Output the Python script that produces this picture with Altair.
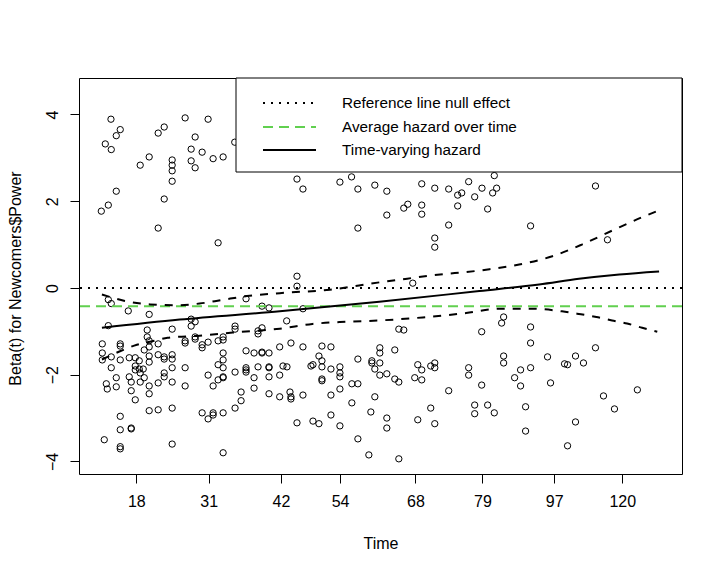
import altair as alt
import pandas as pd

# ---- scaled Schoenfeld residuals: transformed time (0-100 across the panel) and beta(t) ----
ul_time = [5.30, 6.84, 6.18, 4.36, 5.35, 13.13, 14.13, 17.60, 21.41, 19.26, 18.60, 20.42, 22.24, 23.90,
           11.64, 10.15, 15.45, 15.45, 15.45, 15.45, 18.60, 19.26, 6.18, 4.86, 3.70, 14.13, 13.13, 23.07, 25.83]
ul_beta = [3.89, 3.65, 3.51, 3.32, 3.19, 3.57, 3.71, 3.92, 3.89, 3.48, 3.20, 3.13, 2.98, 3.02,
           3.02, 2.83, 2.95, 2.83, 2.70, 2.46, 2.93, 2.77, 2.23, 1.91, 1.77, 2.05, 1.38, 1.04, 3.36]

um_time = [36.15, 37.14, 43.27, 45.20, 46.25, 49.06, 51.05, 46.25, 51.05, 53.86, 54.53, 56.84, 56.84, 56.84,
           59.00, 61.31, 62.80, 63.47, 64.62, 65.62, 62.80, 61.31, 59.00, 59.00, 36.15]
um_beta = [2.51, 2.28, 2.44, 2.56, 2.28, 2.37, 2.23, 1.38, 1.68, 1.84, 1.93, 2.40, 1.91, 1.70,
           2.30, 2.28, 2.14, 2.19, 2.45, 2.10, 1.89, 1.45, 1.15, 0.94, 0.27]

ur_time = [68.87, 66.83, 69.26, 68.60, 67.77, 85.65, 74.89, 87.64]
ur_beta = [2.59, 2.30, 2.30, 2.19, 1.82, 2.35, 1.43, 1.11]

lr_time = [70.42, 70.09, 66.78, 74.89, 74.89, 85.65, 70.42, 70.42, 77.70, 82.34, 80.52, 81.02, 83.66, 73.23,
           74.89, 72.24, 73.23, 78.20, 66.78, 92.60, 86.98, 67.77, 68.87, 74.06, 88.80, 82.34, 74.06, 81.02]
lr_beta = [-0.67, -0.81, -1.01, -0.90, -1.27, -1.38, -1.57, -1.73, -1.59, -1.57, -1.75, -1.77, -1.73, -1.89,
           -1.84, -2.07, -2.26, -2.19, -2.24, -2.35, -2.49, -2.70, -2.88, -2.74, -2.79, -3.09, -3.30, -3.64]

lm_time = [36.15, 55.35, 37.14, 34.44, 53.04, 53.86, 35.15, 37.14, 40.29, 41.78,
           39.79, 40.29, 49.89, 49.89, 52.37, 46.25, 48.57, 48.57, 49.89, 33.83,
           34.49, 38.47, 38.80, 40.29, 41.78, 43.27, 43.27, 43.27, 49.06, 49.89,
           51.05, 52.37, 53.04, 56.18, 56.84, 58.33, 59.00, 59.00, 55.68, 56.84,
           64.62, 64.62, 40.29, 40.29, 45.25, 46.25, 43.27, 34.99, 35.15, 35.15,
           37.14, 41.78, 49.06, 61.31, 45.25, 48.40, 51.05, 51.05, 56.18, 58.33,
           59.00, 65.62, 65.62, 36.15, 38.80, 39.79, 41.78, 43.27, 46.25, 48.07,
           53.04]
lm_beta = [0.04, 0.11, -0.48, -0.76, -0.95, -0.97, -1.27, -1.36, -1.34, -1.36,
           -1.57, -1.68, -1.38, -1.50, -1.43, -1.64, -1.68, -1.73, -1.73, -1.80,
           -1.82, -1.80, -1.77, -1.82, -1.87, -1.82, -1.96, -2.05, -1.87, -2.01,
           -1.98, -2.10, -2.17, -1.77, -1.89, -1.80, -1.73, -1.84, -2.07, -2.12,
           -1.84, -2.01, -2.10, -2.14, -2.21, -2.21, -2.33, -2.40, -2.51, -2.56,
           -2.47, -2.47, -2.51, -2.37, -2.65, -2.86, -3.00, -3.23, -3.04, -2.77,
           -3.13, -2.70, -2.90, -3.11, -3.07, -3.13, -2.93, -3.18, -3.48, -3.85,
           -3.94]

ll1_time = [4.86, 5.35, 27.70, 30.35, 31.51, 8.17, 11.64, 4.86, 18.60, 19.26,
            18.60, 25.88, 25.88, 30.35, 29.69, 29.69, 11.31, 15.45, 11.31, 11.64,
            13.13, 17.60, 17.60, 19.26, 19.26, 20.42, 20.42, 21.41, 23.07, 23.90,
            23.90, 3.86, 6.84, 6.84, 3.86, 5.35, 6.84, 3.86, 8.33, 9.33,
            9.99, 9.33, 9.33, 9.99, 10.82, 11.64, 11.64, 11.64, 13.13, 14.13,
            14.13, 15.45, 15.45, 5.35, 10.65, 10.15, 14.13, 15.45, 17.60, 15.45]
ll1_beta = [-0.27, -0.36, -0.25, -0.42, -0.46, -0.53, -0.61, -0.87, -0.72, -0.78,
            -0.88, -0.88, -0.95, -0.92, -0.99, -1.06, -0.97, -0.95, -1.13, -1.22,
            -1.29, -1.22, -1.27, -1.13, -1.18, -1.31, -1.38, -1.25, -1.22, -1.13,
            -1.20, -1.29, -1.29, -1.34, -1.50, -1.59, -1.66, -1.66, -1.61, -1.61,
            -1.68, -1.80, -1.89, -1.87, -1.43, -1.36, -1.57, -1.71, -1.54, -1.59,
            -1.64, -1.54, -1.64, -1.84, -1.87, -1.96, -1.96, -1.84, -1.84, -2.17]

ll2_time = [17.60, 14.13, 6.18, 8.33, 10.82, 4.53, 4.69, 6.18, 8.66, 10.15,
            11.64, 13.13, 8.66, 9.33, 11.64, 11.64, 13.13, 15.45, 6.84, 6.84,
            8.66, 8.66, 4.19, 6.84, 6.84, 15.45, 20.42, 21.41, 22.24, 22.24,
            23.90, 23.90, 21.41, 22.24, 23.07, 23.90, 23.90, 23.07, 23.90, 23.90,
            23.90, 25.88, 27.70, 27.70, 27.70, 27.70, 29.03, 29.03, 29.03, 30.35,
            30.35, 31.51, 29.69, 31.51, 31.51, 31.51, 31.51, 33.28, 33.28, 33.28,
            25.88, 26.88, 26.88]
ll2_beta = [-2.26, -2.05, -2.07, -2.05, -2.07, -2.21, -2.33, -2.28, -2.17, -2.17,
            -2.26, -2.19, -2.37, -2.58, -2.44, -2.83, -2.81, -2.77, -2.96, -3.27,
            -3.23, -3.25, -3.50, -3.66, -3.71, -3.60, -2.88, -3.02, -2.88, -2.93,
            -2.88, -3.80, -2.01, -2.26, -2.12, -2.05, -2.07, -1.77, -1.66, -1.84,
            -1.50, -1.94, -1.45, -1.84, -1.89, -1.94, -1.50, -2.07, -2.31, -1.48,
            -1.50, -1.50, -1.82, -1.82, -1.84, -2.05, -2.44, -1.36, -2.01, -2.51,
            -2.77, -2.60, -2.40]

# ---- smoothed time-varying coefficient and its confidence band ----
fit_time = [3.8, 16.7, 33.3, 49.8, 66.4, 76.3, 82.9, 89.6, 96.2]
fit_beta = [-0.92, -0.73, -0.54, -0.32, -0.07, 0.08, 0.21, 0.31, 0.38]

upper_time = [3.8, 7.6, 11.8, 16.0, 20.0, 24.0, 28.3, 33.3, 41.6, 49.9, 52.1, 58.0, 67.5, 73.0,
              78.5, 83.4, 88.4, 93.2, 96.2]
upper_beta = [-0.15, -0.30, -0.38, -0.40, -0.36, -0.27, -0.18, -0.12, -0.04, 0.13, 0.17, 0.28, 0.42, 0.54,
              0.73, 1.00, 1.32, 1.62, 1.79]

lower_time = [3.8, 6.8, 9.6, 12.1, 14.7, 20.0, 25.5, 33.3, 38.7, 44.4, 49.8, 57.0, 64.2, 69.7,
              75.2, 80.1, 82.9, 85.8, 88.4, 90.9, 93.4, 95.9]
lower_beta = [-1.65, -1.46, -1.31, -1.23, -1.15, -1.10, -1.03, -0.94, -0.83, -0.78, -0.75, -0.68, -0.58, -0.48,
              -0.48, -0.54, -0.60, -0.67, -0.75, -0.82, -0.92, -1.01]

null_effect = 0.0
average_hazard = -0.42

tick_positions = [9.5, 21.5, 33.5, 43.3, 55.8, 66.9, 78.8, 90.1]
tick_labels = ["18", "31", "42", "54", "68", "79", "97", "120"]

legend_labels = ["Reference line null effect", "Average hazard over time", "Time-varying hazard"]

# ---------------------------------------------------------------------------
FONT = "Liberation Sans"
FS = 16
W, H = 603, 396

resid = pd.DataFrame({
    "t": ul_time + um_time + ur_time + lr_time + lm_time + ll1_time + ll2_time,
    "b": ul_beta + um_beta + ur_beta + lr_beta + lm_beta + ll1_beta + ll2_beta,
})
fit_df = pd.DataFrame({"t": fit_time, "b": fit_beta})
up_df = pd.DataFrame({"t": upper_time, "b": upper_beta})
lo_df = pd.DataFrame({"t": lower_time, "b": lower_beta})
ref_df = pd.DataFrame({"b": [null_effect]})
avg_df = pd.DataFrame({"b": [average_hazard]})

label_expr = " : ".join(
    f"abs(datum.value - {p}) < 0.01 ? '{l}'" for p, l in zip(tick_positions, tick_labels)
) + " : ''"

xscale = alt.Scale(domain=[0, 100], nice=False, zero=False)
yscale = alt.Scale(domain=[-4.29, 4.84], nice=False, zero=False)

x_axis = alt.Axis(values=tick_positions, labelExpr=label_expr, title="Time", grid=False, domain=False,
                  tickSize=9, tickColor="black", labelColor="black", labelFont=FONT, labelFontSize=FS,
                  labelPadding=10, labelBaseline="top", labelFlush=False, labelOverlap=False,
                  titleFont=FONT, titleFontSize=FS, titleFontWeight="normal", titleColor="black",
                  titleX=W / 2, titleY=69, titleBaseline="middle", titleAlign="center")
y_axis = alt.Axis(values=[-4, -2, 0, 2, 4], title="Beta(t) for Newcomers$Power", grid=False, domain=False,
                  tickSize=9, tickColor="black", labelColor="black", labelFont=FONT, labelFontSize=FS,
                  labelAngle=270, labelAlign="center", labelBaseline="bottom", labelPadding=10,
                  labelFlush=False, labelOverlap=False,
                  titleFont=FONT, titleFontSize=FS, titleFontWeight="normal", titleColor="black",
                  titleAngle=270, titleX=-64, titleY=200, titleAlign="center", titleBaseline="middle")

points = alt.Chart(resid).mark_point(shape="circle", filled=False, color="black", size=40,
                                     strokeWidth=1, opacity=1).encode(
    x=alt.X("t:Q", scale=xscale, axis=x_axis),
    y=alt.Y("b:Q", scale=yscale, axis=y_axis),
)

ref_line = alt.Chart(ref_df).mark_rule(color="black", strokeWidth=2, strokeDash=[2, 6]).encode(
    y=alt.Y("b:Q", scale=yscale))
avg_line = alt.Chart(avg_df).mark_rule(color="#61D04F", strokeWidth=2, strokeDash=[10, 6]).encode(
    y=alt.Y("b:Q", scale=yscale))

fit_line = alt.Chart(fit_df).mark_line(color="black", strokeWidth=2, interpolate="monotone").encode(
    x=alt.X("t:Q", scale=xscale), y=alt.Y("b:Q", scale=yscale))
up_line = alt.Chart(up_df).mark_line(color="black", strokeWidth=2, strokeDash=[8, 8],
                                     interpolate="monotone").encode(
    x=alt.X("t:Q", scale=xscale), y=alt.Y("b:Q", scale=yscale))
lo_line = alt.Chart(lo_df).mark_line(color="black", strokeWidth=2, strokeDash=[8, 8],
                                     interpolate="monotone").encode(
    x=alt.X("t:Q", scale=xscale), y=alt.Y("b:Q", scale=yscale))

# legend box (drawn in pixel space, top-right of the panel)
one = pd.DataFrame({"k": [0]})
leg_box = alt.Chart(one).mark_rect(fill="white", stroke="black", strokeWidth=1).encode(
    x=alt.value(157), x2=alt.value(W), y=alt.value(0), y2=alt.value(94))
row_y = [25, 49, 72]
leg_styles = [("black", [2, 6]), ("#61D04F", [10, 6]), ("black", None)]
leg_layers = [leg_box]
for ry, lab, (col, dash) in zip(row_y, legend_labels, leg_styles):
    kw = dict(color=col, strokeWidth=2)
    if dash:
        kw["strokeDash"] = dash
    leg_layers.append(alt.Chart(one).mark_rule(**kw).encode(
        x=alt.value(184), x2=alt.value(237), y=alt.value(ry)))
    leg_layers.append(alt.Chart(one).mark_text(align="left", baseline="middle", font=FONT, fontSize=15.3,
                                               color="black").encode(
        x=alt.value(263), y=alt.value(ry), text=alt.value(lab)))

chart = alt.layer(points, ref_line, avg_line, up_line, lo_line, fit_line, *leg_layers).properties(
    width=W, height=H,
    autosize=alt.AutoSizeParams(type="none"),
    padding={"left": 71, "top": 70, "right": 30, "bottom": 86},
    background="white",
).configure_view(stroke="black", strokeWidth=1)

chart.save("out.html", embed_options={"renderer": "svg", "actions": False})
